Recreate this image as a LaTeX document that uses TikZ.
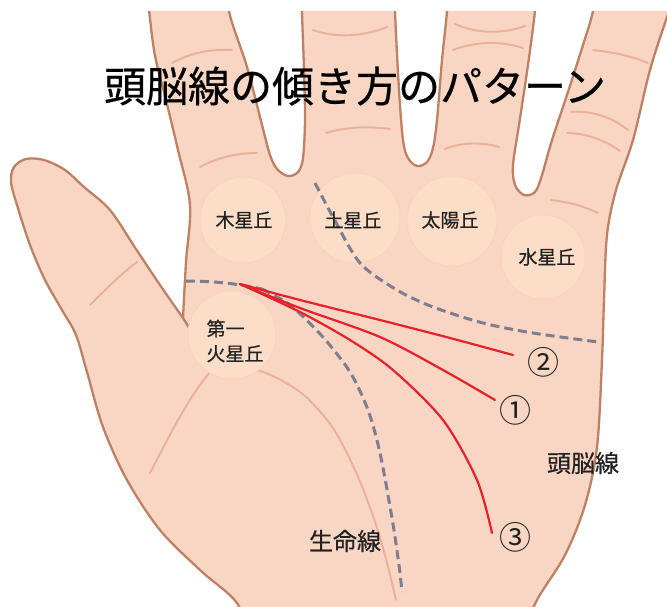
\documentclass[tikz,border=0pt]{standalone}
\usepackage{fontspec}
\newfontfamily\jpfont{Noto Sans CJK JP}
\newfontfamily\jpmedium[FakeBold=0.5]{Noto Sans CJK JP}
\definecolor{skinc}{HTML}{F9D6C4}
\definecolor{outlinec}{HTML}{BF8064}
\definecolor{creasec}{HTML}{ECAF97}
\definecolor{moundc}{HTML}{FBDDC8}
\definecolor{moundedge}{HTML}{F7D2BE}
\definecolor{dashc}{HTML}{7E7E8E}
\definecolor{redc}{HTML}{E8202A}
\definecolor{inkc}{HTML}{222222}
\tikzset{
  hand/.style={fill=skinc, draw=outlinec, line width=2.3pt, line join=round},
  handedge/.style={draw=outlinec, line width=2.3pt, line cap=round},
  crease/.style={draw=creasec, line width=1.9pt, line cap=round},
  mound/.style={fill=moundc},
  dashline/.style={draw=dashc, line width=3pt, dash pattern=on 9pt off 5pt},
  redline/.style={draw=redc, line width=2.2pt, line cap=round},
  titletext/.style={font=\jpmedium\fontsize{42}{50}\selectfont, text=black},
  moundtext/.style={font=\jpmedium\fontsize{19}{25}\selectfont, text=inkc},
  linetext/.style={font=\jpmedium\fontsize{24}{28}\selectfont, text=inkc},
  numtext/.style={font=\jpfont\fontsize{32}{34}\selectfont, text=inkc},
}
\begin{document}
\begin{tikzpicture}[x=1pt, y=-1pt]
\useasboundingbox (0,0) rectangle (667,606);
\fill[white] (0,0) rectangle (667,606);

\begin{scope}
  \clip (0,11) rectangle (667,606);
  % hand silhouette: palm, four fingers and thumb
  \filldraw[hand]
    plot[smooth, tension=0.55] coordinates {(183,318) (186,262) (190,205) (178,150) (166,100) (154,50) (146,-20)}
    -- plot[smooth, tension=0.55] coordinates {(231,-20) (229,11) (247,67) (262,125) (270,155) (277,169) (288,176) (298,172) (303,158) (305,120) (304,70) (302,11) (302,-20)}
    -- plot[smooth, tension=0.55] coordinates {(395,-20) (395,11) (399,90) (403,140) (408,158) (417,166) (427,162) (433,148) (437,120) (442,60) (447,11) (448,-20)}
    -- plot[smooth, tension=0.55] coordinates {(537,-20) (535,11) (528,65) (519,125) (513,165) (515,185) (524,195) (535,192) (542,175) (552,140) (567,95) (583,45) (593,11) (596,-20)}
    -- plot[smooth, tension=0.55] coordinates {(680,-20) (667,17) (650,70) (633,140) (616,190) (607,235) (604,300) (602,360) (597,447) (585,505) (565,555) (537,600) (520,640)}
    -- plot[smooth, tension=0.55] coordinates {(250,640) (237,603) (200,570) (160,530) (127,480) (103,427) (87,372) (76,335) (62,310) (45,280) (30,245) (17,205) (11,182) (14,167) (26,159) (44,160) (65,170) (84,187) (110,210) (134,246) (160,285) (183,318)}
    -- cycle;

  % inner edge of the thumb running into the palm
  \coordinate (thumbbase) at (213,368);
  \draw[handedge] (183,318) .. controls (193,334) and (203,351) .. (thumbbase);

  % finger creases
  \draw[crease] (172,63) .. controls (192,52) and (212,49) .. (232,50);
  \draw[crease] (200,167) .. controls (218,157) and (238,153) .. (257,153);
  \draw[crease] (313,30) .. controls (335,38) and (362,37) .. (387,27);
  \draw[crease] (326,133) .. controls (345,127) and (368,126) .. (390,129);
  \draw[crease] (455,24) .. controls (478,34) and (503,34) .. (525,26);
  \draw[crease] (453,50) .. controls (476,41) and (502,41) .. (523,48);
  \draw[crease] (445,149) .. controls (462,142) and (482,142) .. (499,147);
  \draw[crease] (593,50) .. controls (612,52) and (632,56) .. (648,63);
  \draw[crease] (571,112) .. controls (590,110) and (612,117) .. (628,130);
  \draw[crease] (567,133) .. controls (585,133) and (605,140) .. (620,151);
  \draw[crease] (551,200) .. controls (568,202) and (584,206) .. (598,213);
  \draw[crease] (90,305) .. controls (105,290) and (122,273) .. (137,262);

  % palm creases from the base of the thumb
  \draw[crease] plot[smooth] coordinates {(thumbbase) (195,392) (178,420) (163,448) (150,473)};
  \draw[crease] plot[smooth] coordinates {(thumbbase) (245,367) (275,377) (305,396) (333,428) (355,470) (372,513) (385,555) (396,600)};

  % mounts
  \fill[mound] (243,220) circle (43);
  \fill[mound] (355,218) circle (45);
  \fill[mound] (452,221) circle (45);
  \fill[mound] (543,257) circle (42);
  \fill[mound] (232,335) circle (44);
  \draw[moundedge, line width=0.8pt] (243,220) circle (43) (355,218) circle (45) (452,221) circle (45) (543,257) circle (42) (232,335) circle (44);

  % dashed reference lines
  \coordinate (hs) at (240,284);
  \draw[dashline] plot[smooth] coordinates {(315,183) (333,217) (360,263) (397,290) (433,307) (483,323) (533,333) (598,342)};
  \draw[dashline] (186,281) .. controls (210,281) and (235,283) .. (262,289);
  \draw[dashline] plot[smooth] coordinates {(262,289) (290,305) (322,336) (350,372) (368,410) (380,453) (392,518) (399,565) (402,592)};

  % the three head-line slopes
  \coordinate (e2) at (513,355);
  \coordinate (e1) at (495,400);
  \coordinate (e3) at (492,533);
  \draw[redline] plot[smooth] coordinates {(hs) (300,300) (380,320) (450,338) (e2)};
  \draw[redline] plot[smooth] coordinates {(hs) (300,308) (380,337) (443,370) (e1)};
  \draw[redline] plot[smooth] coordinates {(hs) (300,312) (350,340) (393,370) (443,420) (477,480) (e3)};
\end{scope}

% texts
\node[titletext] (title) at (355,86) {頭脳線の傾き方のパターン};
\node[moundtext] (jupiter) at (244,220) {木星丘};
\node[moundtext] (saturn) at (353,220) {土星丘};
\node[moundtext] (sun) at (450,220) {太陽丘};
\node[moundtext] (mercury) at (547,257) {水星丘};
\node[moundtext, align=left, anchor=west] (mars) at (203,341) {第一\\火星丘};
\node[numtext] (n2) at (543,362) {②};
\node[numtext] (n1) at (515,410) {①};
\node[numtext] (n3) at (515,537) {③};
\node[linetext] (headline) at (583,463) {頭脳線};
\node[linetext] (lifeline) at (345,541) {生命線};
\end{tikzpicture}
\end{document}
